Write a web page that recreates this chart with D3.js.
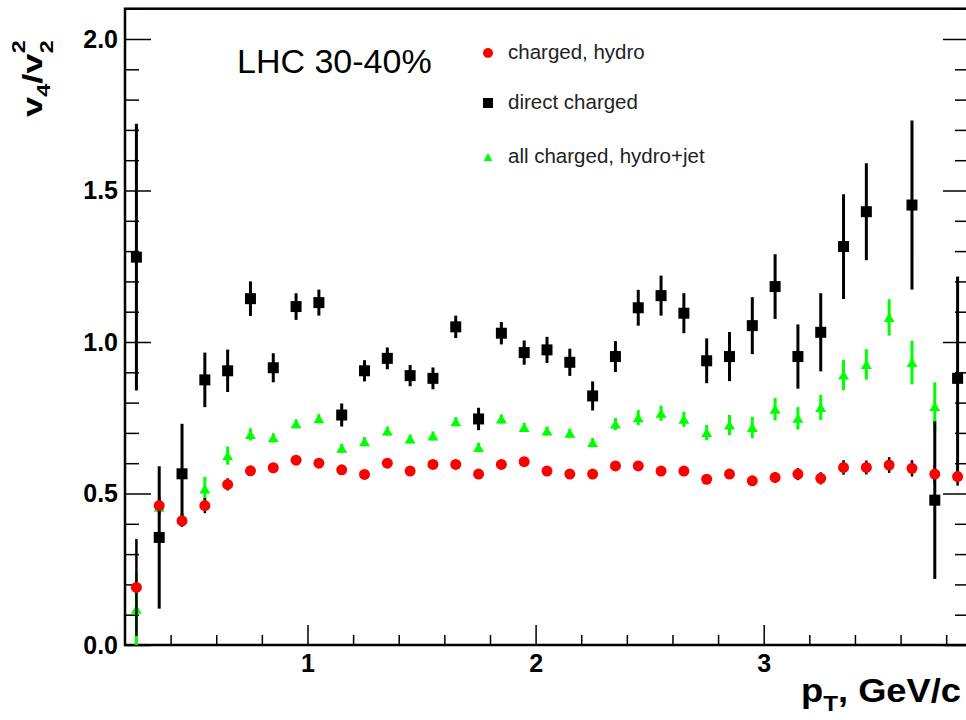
<!DOCTYPE html>
<html>
<head>
<script src="https://d3js.org/d3.v7.min.js"></script>
<style>
  body { margin: 0; background: #fff; }
  svg text { font-family: "Liberation Sans", Arial, Helvetica, sans-serif; }
</style>
</head>
<body>
<svg id="chart" width="966" height="720"></svg>
<script>
// bin centres, GeV/c
const pt = [0.25, 0.35, 0.45, 0.55, 0.65, 0.75, 0.85, 0.95, 1.05, 1.15, 1.25, 1.35, 1.45,
            1.55, 1.65, 1.75, 1.85, 1.95, 2.05, 2.15, 2.25, 2.35, 2.45, 2.55, 2.65, 2.75,
            2.85, 2.95, 3.05, 3.15, 3.25, 3.35, 3.45, 3.55, 3.65, 3.75, 3.85];

// charged, hydro
const hydro = [0.19, 0.46, 0.41, 0.46, 0.53, 0.575, 0.585, 0.61, 0.60, 0.578, 0.563, 0.60, 0.574,
               0.596, 0.596, 0.564, 0.596, 0.605, 0.574, 0.564, 0.564, 0.591, 0.591, 0.574, 0.574, 0.547,
               0.564, 0.542, 0.553, 0.564, 0.55, 0.586, 0.586, 0.594, 0.583, 0.564, 0.556];
const hydroErr = [0.16, 0.03, 0.02, 0.025, 0.02, 0.012, 0.01, 0.01, 0.01, 0.01, 0.01, 0.01, 0.01,
                  0.01, 0.01, 0.01, 0.01, 0.01, 0.01, 0.012, 0.012, 0.012, 0.012, 0.013, 0.013, 0.014,
                  0.015, 0.016, 0.018, 0.02, 0.02, 0.024, 0.023, 0.026, 0.027, 0.03, 0.03];

// direct charged
const direct = [1.28, 0.355, 0.565, 0.875, 0.905, 1.143, 0.915, 1.117, 1.13, 0.759, 0.905, 0.946, 0.889,
                0.88, 1.05, 0.746, 1.029, 0.965, 0.974, 0.933, 0.822, 0.952, 1.113, 1.153, 1.095, 0.938,
                0.952, 1.054, 1.183, 0.952, 1.032, 1.315, 1.43, null, 1.452, 0.478, 0.88];
const directErr = [0.44, 0.235, 0.165, 0.09, 0.07, 0.057, 0.048, 0.044, 0.043, 0.038, 0.035, 0.036, 0.035,
                   0.036, 0.037, 0.037, 0.037, 0.04, 0.043, 0.045, 0.048, 0.051, 0.059, 0.066, 0.066, 0.074,
                   0.081, 0.094, 0.107, 0.106, 0.129, 0.173, 0.16, null, 0.279, 0.26, 0.336];

// all charged, hydro+jet
const hydroJet = [0.118, 0.455, 0.415, 0.515, 0.625, 0.695, 0.684, 0.73, 0.747, 0.649, 0.671, 0.706, 0.68,
                  0.69, 0.737, 0.652, 0.746, 0.718, 0.706, 0.699, 0.668, 0.729, 0.75, 0.765, 0.745, 0.701,
                  0.726, 0.718, 0.778, 0.748, 0.784, 0.891, 0.926, 1.081, 0.932, 0.787, null];
const hydroJetErr = [0.12, 0.02, 0.02, 0.04, 0.03, 0.02, 0.015, 0.015, 0.015, 0.015, 0.015, 0.015, 0.015,
                     0.015, 0.015, 0.015, 0.015, 0.015, 0.015, 0.015, 0.015, 0.02, 0.025, 0.025, 0.025, 0.025,
                     0.033, 0.035, 0.037, 0.037, 0.041, 0.05, 0.05, 0.06, 0.072, 0.08, null];

const xMajor = [1, 2, 3];
const yMajor = [0, 0.5, 1.0, 1.5, 2.0];
const legendLabels = ["charged, hydro", "direct charged", "all charged, hydro+jet"];

const svg = d3.select("#chart");
const x = d3.scaleLinear().domain([0.2, 3.9]).range([125, 969]);
const y = d3.scaleLinear().domain([0, 2.1]).range([645, 8.7]);

const xMinor = d3.range(0.4, 3.81, 0.2).filter(v => Math.abs(v - Math.round(v)) > 0.01);
const yMinor = d3.range(0, 2.101, 0.1).filter(v => Math.abs(v * 2 - Math.round(v * 2)) > 0.01);

svg.append("clipPath").attr("id", "frame")
  .append("rect").attr("x", x(0.2)).attr("y", y(2.1))
  .attr("width", x(3.9) - x(0.2)).attr("height", y(0) - y(2.1));

// axes (ticks pointing inwards)
function axisStyle(g) {
  g.select(".domain").remove();
  g.selectAll("line").attr("stroke", "#000").attr("stroke-width", 1.5);
  g.selectAll("text").attr("fill", "#000").attr("font-weight", "bold").attr("font-size", 25);
}
svg.append("g").attr("transform", `translate(${x(0.2)},0)`)
  .call(d3.axisLeft(y).tickValues(yMinor).tickSize(-14).tickFormat("")).call(axisStyle);
svg.append("g").attr("transform", `translate(${x(0.2)},0)`)
  .call(d3.axisLeft(y).tickValues(yMajor).tickSize(-26).tickPadding(7).tickFormat(d3.format(".1f")))
  .call(axisStyle);
svg.append("g").attr("transform", `translate(${x(3.9)},0)`)
  .call(d3.axisRight(y).tickValues(yMinor).tickSize(-14).tickFormat("")).call(axisStyle);
svg.append("g").attr("transform", `translate(${x(3.9)},0)`)
  .call(d3.axisRight(y).tickValues(yMajor).tickSize(-26).tickFormat("")).call(axisStyle);
svg.append("g").attr("transform", `translate(0,${y(0)})`)
  .call(d3.axisBottom(x).tickValues(xMinor).tickSize(-10).tickFormat("")).call(axisStyle);
svg.append("g").attr("transform", `translate(0,${y(0)})`)
  .call(d3.axisBottom(x).tickValues(xMajor).tickSize(-20).tickPadding(9).tickFormat(d3.format("d")))
  .call(axisStyle);

svg.append("rect")
  .attr("x", x(0.2)).attr("y", y(2.1))
  .attr("width", x(3.9) - x(0.2)).attr("height", y(0) - y(2.1))
  .attr("fill", "none").attr("stroke", "#000").attr("stroke-width", 2.5);

const plot = svg.append("g").attr("clip-path", "url(#frame)");

function rows(vals, errs) {
  return pt.map((p, i) => ({ p: p, v: vals[i], e: errs[i] })).filter(d => d.v !== null);
}
function errorBars(data, color, width) {
  plot.append("g").selectAll("line").data(data).join("line")
    .attr("x1", d => x(d.p)).attr("x2", d => x(d.p))
    .attr("y1", d => y(d.v - d.e)).attr("y2", d => y(d.v + d.e))
    .attr("stroke", color).attr("stroke-width", width);
}
const tri = (cx, cy, w, h) => `M${cx - w / 2},${cy + h / 2}L${cx + w / 2},${cy + h / 2}L${cx},${cy - h / 2}Z`;

// all charged, hydro+jet
const jetData = rows(hydroJet, hydroJetErr);
errorBars(jetData, "#00ff00", 3);
plot.append("g").selectAll("path").data(jetData).join("path")
  .attr("d", d => tri(x(d.p), y(d.v), 11, 9)).attr("fill", "#00ff00");

// direct charged
const dirData = rows(direct, directErr);
errorBars(dirData, "#000", 3);
plot.append("g").selectAll("rect").data(dirData).join("rect")
  .attr("x", d => x(d.p) - 5.5).attr("y", d => y(d.v) - 5.5)
  .attr("width", 11).attr("height", 11).attr("fill", "#000");

// charged, hydro
const hydData = rows(hydro, hydroErr);
errorBars(hydData, "#000", 2.5);
plot.append("g").selectAll("circle").data(hydData).join("circle")
  .attr("cx", d => x(d.p)).attr("cy", d => y(d.v)).attr("r", 5.5).attr("fill", "#ff0000");

// legend
const leg = svg.append("g");
const legY = [53, 103, 157];
leg.append("circle").attr("cx", 488).attr("cy", legY[0]).attr("r", 5).attr("fill", "#ff0000");
leg.append("rect").attr("x", 483).attr("y", legY[1] - 5).attr("width", 10).attr("height", 10).attr("fill", "#000");
leg.append("path").attr("d", tri(488, legY[2], 9, 8)).attr("fill", "#00ff00");
leg.selectAll("text").data(legendLabels).join("text")
  .attr("x", 508).attr("y", (d, i) => legY[i] + 6)
  .attr("font-size", 20.5).attr("fill", "#222").text(d => d);

svg.append("text").attr("x", 237).attr("y", 73)
  .attr("font-size", 34).attr("fill", "#000").text("LHC 30-40%");

// axis titles
const yt = svg.append("text").attr("transform", "translate(42,117) rotate(-90) scale(1.3,1)")
  .attr("font-size", 28).attr("font-weight", "bold");
yt.append("tspan").text("v");
yt.append("tspan").attr("font-size", 18).attr("dy", 8).text("4");
yt.append("tspan").attr("dy", -8).text("/v");
yt.append("tspan").attr("font-size", 18).attr("dy", -17).text("2");
yt.append("tspan").attr("font-size", 18).attr("dx", -10).attr("dy", 28).text("2");

const xt = svg.append("text").attr("transform", "translate(961,702) scale(1.1,1)")
  .attr("text-anchor", "end").attr("font-size", 33).attr("font-weight", "bold");
xt.append("tspan").text("p");
xt.append("tspan").attr("font-size", 22).attr("dy", 9).text("T");
xt.append("tspan").attr("dy", -9).text(", GeV/c");
</script>
</body>
</html>
